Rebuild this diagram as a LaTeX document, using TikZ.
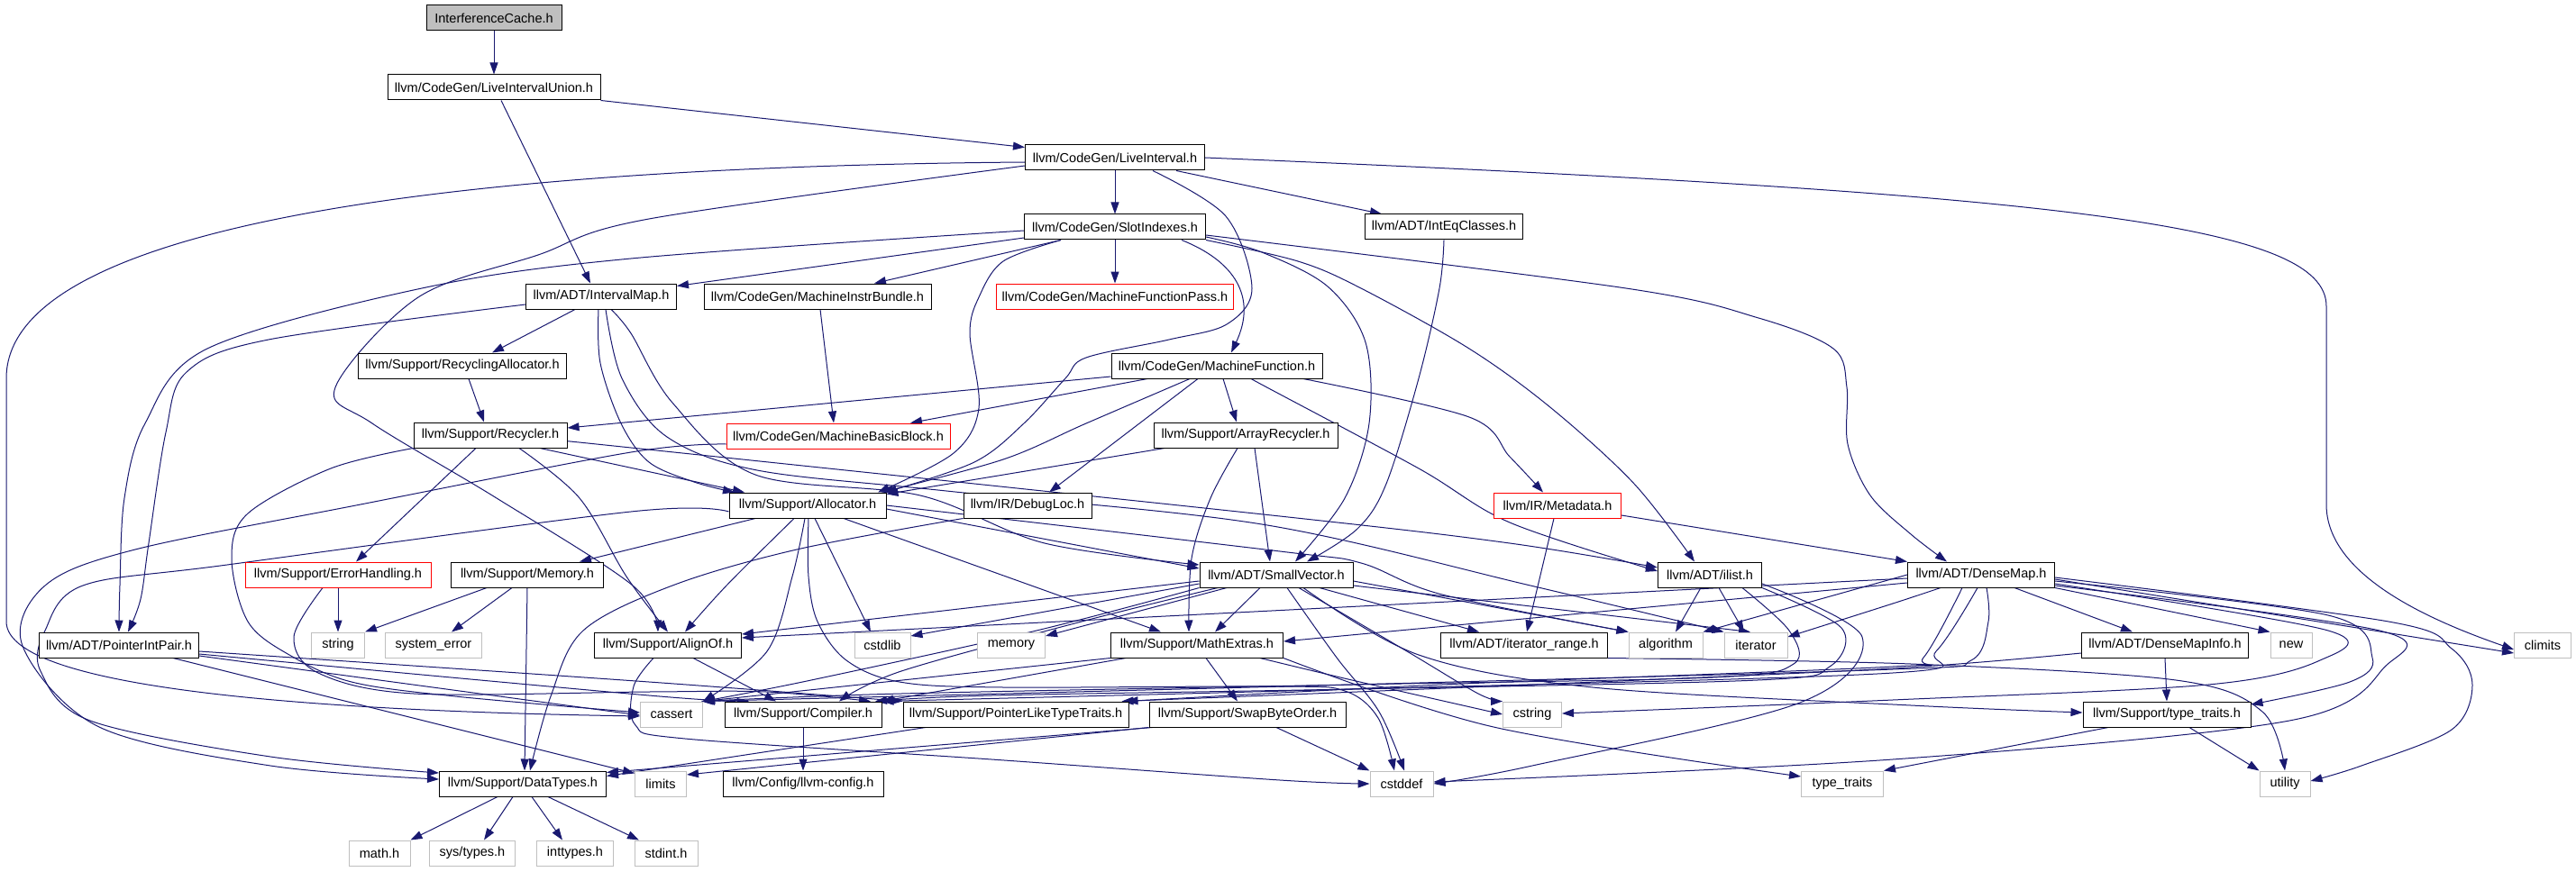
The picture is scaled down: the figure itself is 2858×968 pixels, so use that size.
\documentclass[tikz,border=0pt]{standalone}
\usepackage{fontspec}
\setmainfont{Liberation Sans}
\usetikzlibrary{arrows.meta}
\pgfdeclarelayer{bg}
\pgfsetlayers{bg,main}
\definecolor{edgec}{HTML}{191970}
\definecolor{sysc}{HTML}{BFBFBF}
\definecolor{rootc}{HTML}{BFBFBF}
\tikzset{
 box/.style={draw=black, line width=1.0pt, fill=white, minimum height=28pt, inner sep=0pt, font=\fontsize{14.5}{16}\selectfont},
 sysbox/.style={box, draw=sysc},
 redbox/.style={box, draw=red},
 rootbox/.style={box, fill=rootc},
 dep/.style={draw=edgec, line width=1.0pt, -{Triangle[length=13pt,width=9pt]}},
 sm/.style={smooth, tension=0.55}
}
\begin{document}
\begin{tikzpicture}[x=1pt,y=-1pt]
\useasboundingbox (0,0) rectangle (2858,968);
% nodes
\node[rootbox, minimum width=150pt] (ic) at (548,20) {InterferenceCache.h};
\node[box, minimum width=236pt] (liu) at (548,97) {llvm/CodeGen/LiveIntervalUnion.h};
\node[box, minimum width=199pt] (li) at (1237,175) {llvm/CodeGen/LiveInterval.h};
\node[box, minimum width=201pt] (si) at (1237,252) {llvm/CodeGen/SlotIndexes.h};
\node[box, minimum width=175pt] (ieq) at (1602,252) {llvm/ADT/IntEqClasses.h};
\node[box, minimum width=167pt] (im) at (667,329) {llvm/ADT/IntervalMap.h};
\node[box, minimum width=252pt] (mib) at (907,329) {llvm/CodeGen/MachineInstrBundle.h};
\node[redbox, minimum width=263pt] (mfp) at (1237,329) {llvm/CodeGen/MachineFunctionPass.h};
\node[box, minimum width=231pt] (ra) at (513,406) {llvm/Support/RecyclingAllocator.h};
\node[box, minimum width=234pt] (mf) at (1350,406) {llvm/CodeGen/MachineFunction.h};
\node[box, minimum width=170pt] (rec) at (544,483) {llvm/Support/Recycler.h};
\node[redbox, minimum width=248pt] (mbb) at (930,484) {llvm/CodeGen/MachineBasicBlock.h};
\node[box, minimum width=204pt] (ar) at (1382,483) {llvm/Support/ArrayRecycler.h};
\node[box, minimum width=174pt] (alloc) at (896,561) {llvm/Support/Allocator.h};
\node[box, minimum width=142pt] (dl) at (1140,561) {llvm/IR/DebugLoc.h};
\node[redbox, minimum width=141pt] (md) at (1728,561) {llvm/IR/Metadata.h};
\node[redbox, minimum width=206pt] (eh) at (375,638) {llvm/Support/ErrorHandling.h};
\node[box, minimum width=169pt] (mem) at (585,638) {llvm/Support/Memory.h};
\node[box, minimum width=170pt] (sv) at (1416,638) {llvm/ADT/SmallVector.h};
\node[box, minimum width=115pt] (il) at (1897,638) {llvm/ADT/ilist.h};
\node[box, minimum width=163pt] (dm) at (2198,638) {llvm/ADT/DenseMap.h};
\node[box, minimum width=177pt] (pip) at (132,716) {llvm/ADT/PointerIntPair.h};
\node[sysbox, minimum width=59pt] (str) at (375,716) {string};
\node[sysbox, minimum width=107pt] (se) at (481,716) {system\_error};
\node[box, minimum width=163pt] (ao) at (741,716) {llvm/Support/AlignOf.h};
\node[sysbox, minimum width=62pt] (cstdlib) at (979,716) {cstdlib};
\node[sysbox, minimum width=75pt] (memory) at (1122,716) {memory};
\node[box, minimum width=191pt] (me) at (1328,716) {llvm/Support/MathExtras.h};
\node[box, minimum width=185pt] (itr) at (1691,716) {llvm/ADT/iterator\_range.h};
\node[sysbox, minimum width=82pt] (algorithm) at (1848,716) {algorithm};
\node[sysbox, minimum width=70pt] (iterator) at (1948,716) {iterator};
\node[box, minimum width=185pt] (dmi) at (2402,716) {llvm/ADT/DenseMapInfo.h};
\node[sysbox, minimum width=46pt] (new) at (2542,716) {new};
\node[sysbox, minimum width=63pt] (climits) at (2821,716) {climits};
\node[sysbox, minimum width=69pt] (cassert) at (745,793) {cassert};
\node[box, minimum width=174pt] (comp) at (891,793) {llvm/Support/Compiler.h};
\node[box, minimum width=250pt] (pltt) at (1127,793) {llvm/Support/PointerLikeTypeTraits.h};
\node[box, minimum width=218pt] (sbo) at (1384,793) {llvm/Support/SwapByteOrder.h};
\node[sysbox, minimum width=65pt] (cstring) at (1700,793) {cstring};
\node[box, minimum width=186pt] (tt) at (2404,793) {llvm/Support/type\_traits.h};
\node[box, minimum width=185pt] (dt) at (580,870) {llvm/Support/DataTypes.h};
\node[sysbox, minimum width=57pt] (limits) at (733,870) {limits};
\node[box, minimum width=178pt] (cfg) at (891,870) {llvm/Config/llvm-config.h};
\node[sysbox, minimum width=70pt] (cstddef) at (1555,870) {cstddef};
\node[sysbox, minimum width=91pt] (typetraits) at (2044,870) {type\_traits};
\node[sysbox, minimum width=56pt] (utility) at (2535,870) {utility};
\node[sysbox, minimum width=68pt] (math) at (421,947) {math.h};
\node[sysbox, minimum width=95pt] (systypes) at (524,947) {sys/types.h};
\node[sysbox, minimum width=85pt] (inttypes) at (638,947) {inttypes.h};
\node[sysbox, minimum width=70pt] (stdint) at (739,947) {stdint.h};
% edges
\begin{pgfonlayer}{bg}
\draw[dep] (ic.south) -- (liu.north);
\draw[dep] (liu.south east) -- ([yshift=-3pt]li.north west);
\draw[dep] ([xshift=8pt]liu.south) -- ([xshift=-12pt]im.north);
\draw[dep] (li.south) -- (si.north);
\draw[dep] ([xshift=68pt]li.south) -- ([xshift=-69pt]ieq.north);
\draw[dep] (li.east) .. controls (2300,215) and (2581,250) .. (2581,340) -- (2581,560) .. controls (2581,640) and (2700,690) .. ([yshift=-5pt]climits.west);
\draw[dep] ([yshift=-5pt]li.west) .. controls (500,185) and (7,250) .. (7,420) -- (7,690) .. controls (7,770) and (400,790) .. ([yshift=-2pt]cassert.west);
\draw[dep] plot[sm] coordinates {([yshift=-9pt]li.west) (720,243) (597,283) (464,330) (372,430) (413,470) (551,553) (702,650) ([xshift=-11pt]ao.north)};
\draw[dep] plot[sm] coordinates {([xshift=42pt]li.south) (1360,240) (1389,320) (1361,360) (1297,377) (1205,397) (1182,420) (1136,470) (1081,513) ([xshift=86pt]alloc.north)};
% SlotIndexes
\draw[dep] ([yshift=-12pt]si.west) -- ([yshift=-3pt]im.north east);
\draw[dep] ([xshift=-60pt]si.south) -- ([xshift=63pt]mib.north);
\draw[dep] (si.south) -- (mfp.north);
\draw[dep] ([xshift=74pt]si.south) .. controls (1370,290) and (1395,330) .. ([xshift=16pt]mf.north);
\draw[dep] plot[sm] coordinates {([yshift=-4pt]si.west) (700,287) (468,320) (230,387) (161,470) (138,553) (133,650) (pip.north)};
\draw[dep] plot[sm] coordinates {([yshift=-9pt]si.east) (1804,320) (1951,353) (2034,387) (2049,430) (2050,493) (2075,550) (2120,593) ([xshift=-38pt]dm.north)};
\draw[dep] plot[sm] coordinates {(si.south east) (1440,290) (1510,320) (1630,387) (1721,453) (1813,537) ([xshift=-17pt]il.north)};
\draw[dep] plot[sm] coordinates {([yshift=-11pt]si.east) (1400,280) (1473,318) (1515,380) (1519,470) (1492,553) ([xshift=21pt]sv.north)};
\draw[dep] plot[sm] coordinates {([xshift=-60pt]si.south) (1113,290) (1086,330) (1076,370) (1086,453) (1058,503) ([xshift=78pt]alloc.north)};
\draw[dep] plot[sm] coordinates {(ieq.south) (1597,320) (1574,420) (1538,537) (1506,587) ([xshift=34pt]sv.north)};
% IntervalMap
\draw[dep] ([xshift=-29pt]im.south) -- ([xshift=33pt]ra.north);
\draw[dep] plot[sm] coordinates {([yshift=-9pt]im.west) (298,377) (207,413) (184,480) (165,603) (156,665) ([xshift=10pt]pip.north)};
\draw[dep] plot[sm] coordinates {([xshift=-3pt]im.south) (666,403) (689,470) (720,513) (770,535) ([xshift=-81pt]alloc.north)};
\draw[dep] plot[sm] coordinates {([xshift=11pt]im.south) (700,370) (746,447) (838,527) (1021,550) (1159,603) ([yshift=11pt]sv.west)};
\draw[dep] plot[sm] coordinates {([xshift=5pt]im.south) (690,420) (740,485) (840,522) (1050,545) (1400,582) (1698,650) (iterator.north west)};
% Recycling / Recycler
\draw[dep] ([xshift=7pt]ra.south) -- ([xshift=-7pt]rec.north);
\draw[dep] ([xshift=-16pt]rec.south) -- ([xshift=20pt]eh.north);
\draw[dep] plot[sm] coordinates {(rec.south west) (367,520) (275,570) (257,620) (275,690) (321,727) (390,757) (505,773) ([yshift=2pt]cassert.west)};
\draw[dep] plot[sm] coordinates {([xshift=32pt]rec.south) (643,553) (695,640) (ao.north)};
\draw[dep] ([xshift=55pt]rec.south) -- ([xshift=-70pt]alloc.north);
\draw[dep] plot[sm] coordinates {([yshift=-7pt]rec.east) (700,497) (1420,573) (1675,603) ([yshift=8pt]il.west)};
% MachineInstrBundle / MachineFunction
\draw[dep] ([xshift=3pt]mib.south) -- ([xshift=-5pt]mbb.north);
\draw[dep] ([yshift=-12pt]mf.west) -- ([yshift=8pt]rec.east);
\draw[dep] ([xshift=-77pt]mf.south) -- ([xshift=80pt]mbb.north);
\draw[dep] plot[sm] coordinates {([xshift=-30pt]mf.south) (1205,470) (1113,510) ([xshift=82pt]alloc.north)};
\draw[dep] ([xshift=-21pt]mf.south) -- ([xshift=24pt]dl.north);
\draw[dep] ([xshift=7pt]mf.south) -- ([xshift=-10pt]ar.north);
\draw[dep] plot[sm] coordinates {([xshift=39pt]mf.south) (1400,427) (1574,520) (1675,580) ([yshift=4pt]il.west)};
\draw[dep] plot[sm] coordinates {([xshift=96pt]mf.south) (1630,463) (1675,507) ([xshift=-16pt]md.north)};
% ArrayRecycler
\draw[dep] ([xshift=-90pt]ar.south) -- ([yshift=-2pt]alloc.north east);
\draw[dep] ([xshift=10pt]ar.south) -- ([xshift=-7pt]sv.north);
\draw[dep] plot[sm] coordinates {([xshift=-9pt]ar.south) (1343,553) (1322,620) ([xshift=-9pt]me.north)};
% Allocator
\draw[dep] ([yshift=-4pt]alloc.east) -- ([yshift=7pt]sv.west);
\draw[dep] plot[sm] coordinates {(alloc.east) (1420,612) (1510,625) (1600,660) (algorithm.north west)};
\draw[dep] plot[sm] coordinates {([xshift=-15pt]alloc.south) (806,650) ([xshift=19pt]ao.north)};
\draw[dep] plot[sm] coordinates {([xshift=-3pt]alloc.south) (879,640) (851,723) (cassert.north east)};
\draw[dep] plot[sm] coordinates {([xshift=1pt]alloc.south) (897,640) (907,690) (939,733) (998,757) (1113,763) (1420,762) (1492,767) (1529,797) ([xshift=-8pt]cstddef.north)};
\draw[dep] ([xshift=8pt]alloc.south) -- ([xshift=-13pt]cstdlib.north);
\draw[dep] ([xshift=40pt]alloc.south) -- ([xshift=-40pt]me.north);
\draw[dep] ([xshift=-58pt]alloc.south) -- ([xshift=58pt]mem.north);
\draw[dep] plot[sm] coordinates {([yshift=-7pt]alloc.west) (700,568) (252,627) (92,650) (50,700) (45,745) (100,800) (300,840) ([yshift=12pt]dt.west)};
\draw[dep] plot[sm] coordinates {([yshift=-9pt]mbb.west) (700,502) (400,560) (150,610) (50,650) (25,717) (110,807) (300,850) ([yshift=5pt]dt.west)};
% DebugLoc, Metadata
\draw[dep] plot[sm] coordinates {(dl.south west) (884,610) (746,650) (647,700) (611,773) ([xshift=8pt]dt.north)};
\draw[dep] ([yshift=-11pt]md.east) -- (dm.north west);
\draw[dep] ([xshift=-4pt]md.south) -- ([xshift=3pt]itr.north);
% ErrorHandling, Memory
\draw[dep] (eh.south) -- (str.north);
\draw[dep] plot[sm] coordinates {([xshift=-17pt]eh.south) (326,707) (353,747) (459,770) (720,768) (850,768) ([xshift=75pt]comp.north)};
\draw[dep] ([xshift=-45pt]mem.south) -- (str.north east);
\draw[dep] ([xshift=-17pt]mem.south) -- ([xshift=20pt]se.north);
\draw[dep] (mem.south) -- ([xshift=2pt]dt.north);
% PointerIntPair
\draw[dep] plot[sm] coordinates {([yshift=-7pt]pip.east) (720,757) (pltt.north west)};
\draw[dep] plot[sm] coordinates {([yshift=-10pt]pip.east) (720,772) ([xshift=-60pt]comp.north)};
\draw[dep] ([yshift=-12pt]pip.east) -- ([yshift=-1pt]cassert.west);
\draw[dep] ([xshift=60pt]pip.south) -- ([yshift=-3pt]limits.north west);
% AlignOf
\draw[dep] ([xshift=28pt]ao.south) -- ([xshift=-30pt]comp.north);
\draw[dep] plot[sm] coordinates {([xshift=-16pt]ao.south) (703,762) (705,805) (760,820) (1100,843) (1420,866) (cstddef.west)};
% SmallVector
\draw[dep] ([yshift=-7pt]sv.west) -- ([yshift=12pt]ao.east);
\draw[dep] ([yshift=-10pt]sv.west) -- ([yshift=10pt]cstdlib.east);
\draw[dep] ([xshift=-55pt]sv.south) -- ([yshift=10pt]memory.east);
\draw[dep] ([xshift=-18pt]sv.south) -- ([xshift=20pt]me.north);
\draw[dep] plot[sm] coordinates {([xshift=-65pt]sv.south) (1200,690) (1000,745) ([xshift=40pt]comp.north)};
\draw[dep] plot[sm] coordinates {(sv.south west) (1150,700) (900,755) (cassert.north east)};
\draw[dep] ([xshift=48pt]sv.south) -- ([xshift=-50pt]itr.north);
\draw[dep] ([yshift=-7pt]sv.east) -- (algorithm.north west);
\draw[dep] ([yshift=-12pt]sv.east) -- ([xshift=-6pt]iterator.north);
\draw[dep] plot[sm] coordinates {([xshift=12pt]sv.south) (1483,730) (1530,790) ([xshift=3pt]cstddef.north)};
\draw[dep] plot[sm] coordinates {([xshift=25pt]sv.south) (1561,723) (1640,770) (cstring.north west)};
\draw[dep] plot[sm] coordinates {([xshift=30pt]sv.south) (1574,727) (1767,763) (2120,783) ([yshift=2pt]tt.west)};
% ilist
\draw[dep] ([xshift=-10pt]il.south) -- ([xshift=11pt]algorithm.north);
\draw[dep] ([xshift=10pt]il.south) -- ([xshift=-13pt]iterator.north);
\draw[dep] plot[sm] coordinates {([xshift=36pt]il.south) (1985,700) (1990,737) (1900,752) (1500,760) (1000,770) ([xshift=-2pt]cassert.north east)};
\draw[dep] plot[sm] coordinates {(il.south east) (2043,697) (2030,740) (1950,755) (1500,765) (1100,772) ([xshift=80pt]comp.north)};
\draw[dep] plot[sm] coordinates {([yshift=-10pt]il.east) (2066,707) (1997,780) (1700,850) (cstddef.east)};
% DenseMap
\draw[dep] ([xshift=37pt]dm.south) -- ([xshift=-36pt]dmi.north);
\draw[dep] (dm.south east) -- (new.north west);
\draw[dep] ([yshift=-5pt]dm.east) -- ([yshift=-9pt]climits.west);
\draw[dep] plot[sm] coordinates {([yshift=-7pt]dm.east) (2583,683) (2632,730) (2607,757) ([yshift=11pt]tt.east)};
\draw[dep] plot[sm] coordinates {([yshift=-10pt]dm.east) (2583,700) (2574,733) (2450,760) (2100,777) ([yshift=1pt]cstring.east)};
\draw[dep] plot[sm] coordinates {([yshift=-12pt]dm.east) (2640,700) (2646,740) (2540,800) (2100,843) ([yshift=2pt]cstddef.east)};
\draw[dep] plot[sm] coordinates {([yshift=-3pt]dm.east) (2650,690) (2720,720) (2743,760) (2720,810) (2620,850) ([yshift=3pt]utility.east)};
\draw[dep] ([yshift=-9pt]dm.west) -- ([yshift=4pt]me.east);
\draw[dep] ([yshift=-4pt]dm.west) -- ([yshift=8pt]ao.east);
\draw[dep] (dm.west) -- (algorithm.north east);
\draw[dep] plot[sm] coordinates {([xshift=-45pt]dm.south) (2100,670) ([yshift=9pt]iterator.east)};
\draw[dep] plot[sm] coordinates {([xshift=-21pt]dm.south) (2134,730) (2100,740) (1600,760) ([xshift=-3pt]pltt.north east)};
\draw[dep] plot[sm] coordinates {([xshift=-4pt]dm.south) (2148,723) (2100,747) (1500,765) (comp.north east)};
\draw[dep] plot[sm] coordinates {([xshift=6pt]dm.south) (2206,690) (2187,733) (2100,743) (1500,760) (cassert.north east)};
% DenseMapInfo, type_traits, iterator_range
\draw[dep] plot[sm] coordinates {([yshift=-9pt]dmi.west) (2100,742) (1700,760) ([xshift=-8pt]pltt.north east)};
\draw[dep] (dmi.south) -- (tt.north);
\draw[dep] ([xshift=-65pt]tt.south) -- (typetraits.north east);
\draw[dep] ([xshift=25pt]tt.south) -- (utility.north west);
\draw[dep] plot[sm] coordinates {(itr.south east) (2120,737) (2414,755) (2510,790) (utility.north)};
% MathExtras
\draw[dep] ([xshift=10pt]me.south) -- ([xshift=-11pt]sbo.north);
\draw[dep] (me.south west) -- (cassert.north east);
\draw[dep] ([xshift=-79pt]me.south) -- (comp.north east);
\draw[dep] plot[sm] coordinates {([xshift=70pt]me.south) (1500,755) (cstring.west)};
\draw[dep] plot[sm] coordinates {(me.south east) (1657,807) ([yshift=8pt]typetraits.west)};
% SwapByteOrder, PLTT, Compiler
\draw[dep] ([xshift=32pt]sbo.south) -- (cstddef.north west);
\draw[dep] (sbo.south west) -- ([yshift=10pt]limits.east);
\draw[dep] ([xshift=4pt]sbo.south west) -- ([yshift=-2pt]dt.north east);
\draw[dep] ([xshift=-100pt]pltt.south) -- ([yshift=-6pt]dt.north east);
\draw[dep] (comp.south) -- (cfg.north);
% DataTypes
\draw[dep] ([xshift=-28pt]dt.south) -- (math.north east);
\draw[dep] ([xshift=-11pt]dt.south) -- ([xshift=13pt]systypes.north);
\draw[dep] ([xshift=10pt]dt.south) -- ([xshift=-14pt]inttypes.north);
\draw[dep] ([xshift=28pt]dt.south) -- ([xshift=-30pt]stdint.north);
\end{pgfonlayer}
\end{tikzpicture}
\end{document}
